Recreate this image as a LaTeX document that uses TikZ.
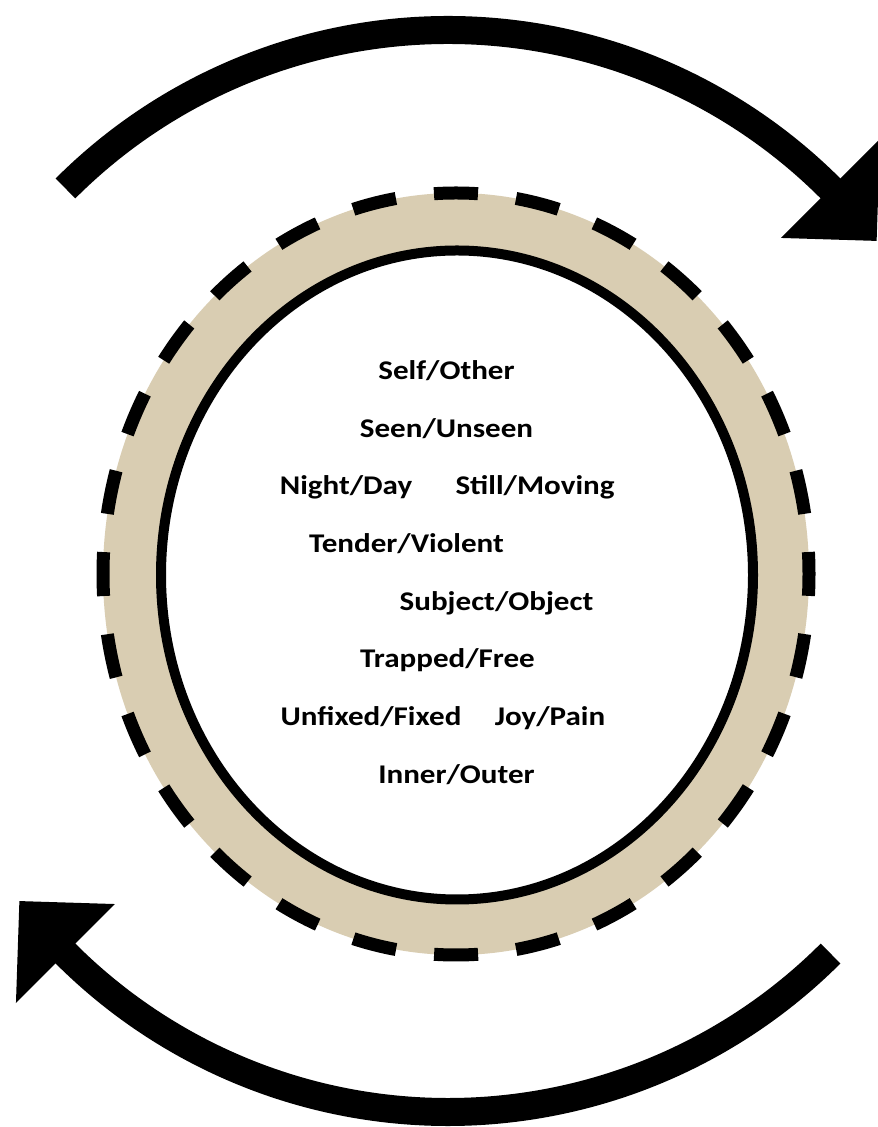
\documentclass[tikz,border=0pt]{standalone}
\usepackage{fontspec}
\usepackage{graphicx}
\setmainfont{Carlito}
\usetikzlibrary{calc}
\definecolor{bandbeige}{RGB}{217,205,178}
\newcommand{\hstretch}[1]{\scalebox{1.15}[1]{#1}}
\begin{document}
\begin{tikzpicture}[x=1pt,y=1pt,
  lbl/.style={anchor=base, inner sep=0pt, font=\fontsize{27}{30}\selectfont\bfseries},
  cyclearc/.style={line width=28pt, line cap=butt},
  headtri/.style={fill=black},
  dashring/.style={line width=13pt, dash pattern=on 44pt off 38.4pt, dash phase=22pt},
  innerring/.style={line width=10pt, fill=white}]
\useasboundingbox (0,0) rectangle (878,1127);
\fill[white] (0,0) rectangle (878,1127);

% ring
\coordinate (ringc) at (456,553);
\coordinate (innc) at (457,552);
\fill[bandbeige] (ringc) ellipse [x radius=353, y radius=381];
\draw[dashring] (ringc) ellipse [x radius=353, y radius=381];
\filldraw[innerring] (innc) ellipse [x radius=296, y radius=324.5];

% cycle arrows
\coordinate (ac) at (448,556);
\coordinate (toptail) at ($(ac)+(135:541pt)$);
\coordinate (topbase1) at ($(ac)+(45:611pt)$);
\coordinate (topbase2) at ($(ac)+(45:471pt)$);
\coordinate (toptip) at ($(ac)+(37.6:541pt)$);
\draw[cyclearc] (toptail) arc[start angle=135, end angle=44.5, radius=541pt];
\fill[headtri] (topbase1) -- (toptip) -- (topbase2) -- cycle;

\coordinate (bottail) at ($(ac)+(-45:541pt)$);
\coordinate (botbase1) at ($(ac)+(-135:611pt)$);
\coordinate (botbase2) at ($(ac)+(-135:471pt)$);
\coordinate (bottip) at ($(ac)+(-142.4:541pt)$);
\draw[cyclearc] (bottail) arc[start angle=-45, end angle=-135.5, radius=541pt];
\fill[headtri] (botbase1) -- (bottip) -- (botbase2) -- cycle;

% labels
\node[lbl] (selfother) at (446.5,747) {\hstretch{Self/Other}};
\node[lbl] (seen) at (446.5,689) {\hstretch{Seen/Unseen}};
\node[lbl] (night) at (346,632) {\hstretch{Night/Day}};
\node[lbl] (still) at (535,632) {\hstretch{Still/Moving}};
\node[lbl] (tender) at (406.5,574) {\hstretch{Tender/Violent}};
\node[lbl] (subject) at (496.5,516) {\hstretch{Subject/Object}};
\node[lbl] (trapped) at (447.5,459) {\hstretch{Trapped/Free}};
\node[lbl] (unfixed) at (371,401) {\hstretch{Unfixed/Fixed}};
\node[lbl] (joy) at (550,401) {\hstretch{Joy/Pain}};
\node[lbl] (inner) at (456.5,343) {\hstretch{Inner/Outer}};
\end{tikzpicture}
\end{document}
